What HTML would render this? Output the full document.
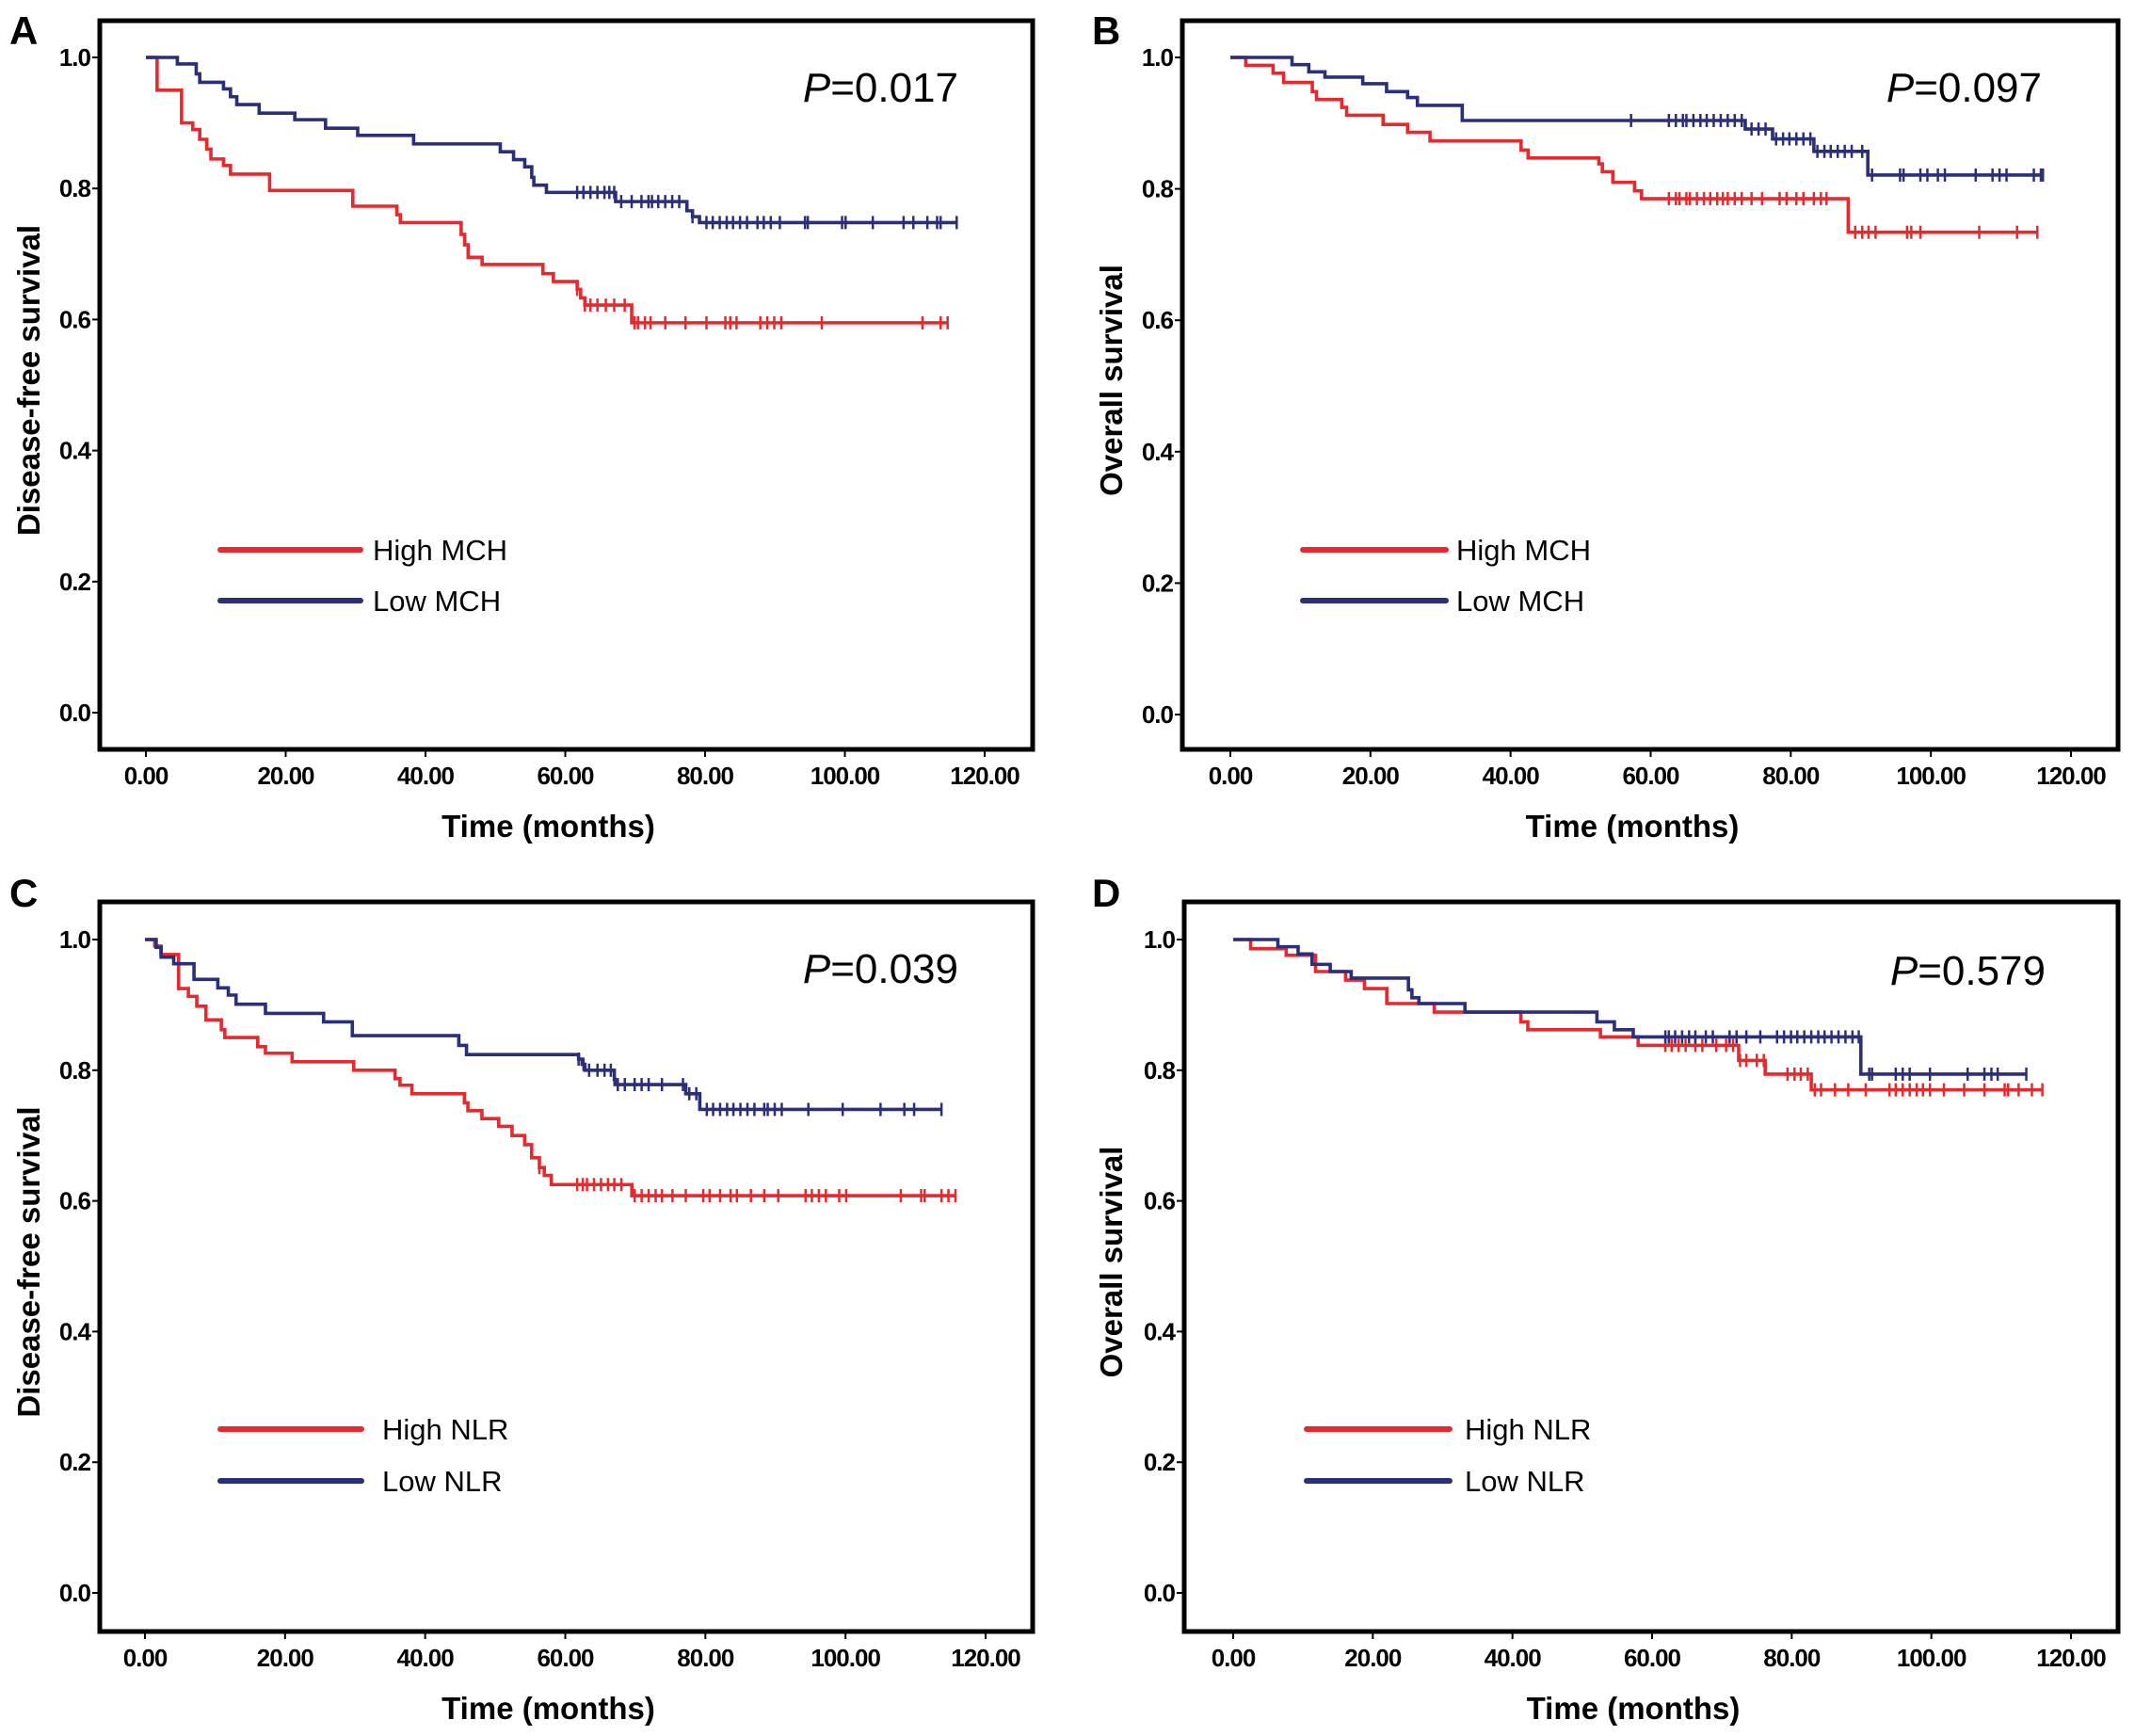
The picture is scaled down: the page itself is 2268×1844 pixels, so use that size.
<!DOCTYPE html>
<html><head><meta charset="utf-8"><style>
html,body{margin:0;padding:0;background:#fff;}
svg{display:block;font-family:"Liberation Sans",Arial,sans-serif;}
</style></head><body>
<svg id="fig" width="2268" height="1844" viewBox="0 0 2268 1844" xmlns="http://www.w3.org/2000/svg"></svg>
<script>
// ---------- DATA ----------
const xTicks = [0,20,40,60,80,100,120];
const xTickLabels = ["0.00","20.00","40.00","60.00","80.00","100.00","120.00"];
const yTicks = [0,0.2,0.4,0.6,0.8,1.0];
const yTickLabels = ["0.0","0.2","0.4","0.6","0.8","1.0"];

// Panel A
const aHighT = [0,1.6,5.1,6.7,7.7,8.7,9.3,11.1,12.1,17.7,29.6,35.9,36.4,45.1,45.6,46.1,48.1,56.8,58.3,61.7,62.2,62.8,69.5];
const aHighS = [1,0.95,0.90,0.89,0.875,0.86,0.845,0.835,0.822,0.797,0.773,0.76,0.748,0.73,0.714,0.695,0.684,0.67,0.658,0.646,0.633,0.622,0.595];
const aHighEnd = 114.7;
const aHighC = [61.7,62.8,63.6,64.6,65.8,67.0,68.5,69.9,70.4,71.4,72.2,74.3,77.2,80.2,82.9,83.6,84.5,87.9,88.9,89.9,90.9,96.7,111.1,113.7,114.7];
const aLowT = [0,4.5,7.2,7.7,11.1,12.1,13.0,16.2,21.3,25.7,30.3,38.3,50.7,52.6,54.2,55.2,55.5,57.3,67.2,77.4,78.2,79.2];
const aLowS = [1,0.99,0.975,0.962,0.952,0.94,0.928,0.915,0.905,0.892,0.881,0.868,0.856,0.844,0.833,0.817,0.805,0.794,0.78,0.766,0.757,0.748];
const aLowEnd = 116.0;
const aLowC = [61.7,62.6,63.6,64.6,65.6,66.3,67.0,68.0,69.5,70.9,71.9,72.4,73.3,74.3,75.3,76.3,78.2,80.2,81.1,82.1,83.1,84.0,85.0,86.0,87.5,88.4,89.4,90.7,94.3,94.7,99.6,100.1,104.0,108.4,109.8,111.8,113.2,113.7,116.0];

// Panel B
const bHighT = [0,2.2,6.1,7.6,11.7,12.3,15.9,16.6,21.8,25.3,28.5,41.5,42.5,52.6,53.1,54.6,57.7,58.7,88.2];
const bHighS = [1,0.988,0.976,0.962,0.948,0.936,0.924,0.912,0.898,0.886,0.873,0.859,0.847,0.838,0.826,0.81,0.797,0.785,0.734];
const bHighEnd = 115.2;
const bHighC = [62.6,63.6,64.1,65.1,65.6,66.6,67.6,68.5,69.5,70.3,71.0,72.0,73.0,74.4,75.9,78.4,79.4,80.8,81.8,83.3,84.3,85.1,89.2,90.2,91.1,92.1,96.6,97.2,98.5,106.9,112.3,115.2];
const bLowT = [0,8.8,11.2,13.5,18.9,22.3,25.3,26.7,33.1,73.5,77.4,83.3,91.0];
const bLowS = [1,0.989,0.978,0.97,0.96,0.948,0.939,0.927,0.904,0.891,0.876,0.857,0.821];
const bLowEnd = 116.0;
const bLowC = [57.2,62.6,63.6,64.6,65.1,66.1,67.1,68.0,69.0,70.0,71.0,72.0,73.0,74.4,75.4,76.4,77.9,78.9,79.8,80.8,81.8,82.8,83.8,84.8,85.7,86.7,87.7,88.7,90.2,91.6,95.6,96.1,98.5,99.5,101.0,102.0,106.4,108.8,109.8,110.8,114.7,115.7,116.0];

// Panel C
const cHighT = [0,1.4,2.3,4.8,6.2,7.4,8.7,10.9,11.4,16.1,17.2,21.0,29.8,35.7,36.4,38.1,45.6,46.1,48.1,50.5,52.4,54.2,55.2,56.3,57.0,58.0,69.5];
const cHighS = [1,0.99,0.977,0.925,0.913,0.898,0.877,0.862,0.85,0.836,0.826,0.813,0.8,0.787,0.777,0.764,0.75,0.738,0.726,0.714,0.70,0.686,0.666,0.651,0.639,0.625,0.608];
const cHighEnd = 115.7;
const cHighC = [56.3,61.7,62.5,63.1,64.1,65.1,66.1,67.0,68.0,69.9,70.9,71.9,72.9,73.8,75.3,77.2,79.7,80.6,82.1,83.6,84.5,86.5,88.4,90.4,94.3,95.2,96.2,97.2,99.1,100.1,107.9,110.8,111.3,113.7,114.7,115.7];
const cLowT = [0,1.6,2.3,4.1,7.0,10.4,11.9,13.0,17.2,25.5,29.6,44.8,45.9,61.9,62.4,62.8,67.0,67.1,77.2,79.2];
const cLowS = [1,0.988,0.973,0.963,0.939,0.926,0.915,0.901,0.887,0.874,0.853,0.838,0.824,0.817,0.809,0.80,0.786,0.778,0.764,0.74];
const cLowEnd = 113.7;
const cLowC = [61.9,62.6,63.4,64.6,65.6,66.5,67.5,68.5,69.9,70.9,71.9,73.8,76.8,77.7,78.7,80.2,81.1,82.1,83.1,84.0,85.0,86.0,87.0,88.4,88.9,89.9,90.9,94.7,99.6,105.0,108.4,109.8,113.7];

// Panel D
const dHighT = [0,2.5,7.6,11.8,16.1,18.8,22.0,28.8,41.2,42.2,52.6,58.0,72.4,76.2,82.8];
const dHighS = [1,0.986,0.976,0.951,0.938,0.925,0.902,0.889,0.874,0.862,0.851,0.838,0.815,0.794,0.77];
const dHighEnd = 115.9;
const dHighC = [61.9,62.8,63.8,64.8,66.2,67.2,69.2,70.6,71.6,72.6,73.5,75.0,76.0,79.4,80.4,81.3,82.3,83.3,84.2,86.2,88.1,90.6,94.0,94.9,95.9,96.9,97.9,98.8,99.8,101.8,104.7,107.6,110.5,111.0,112.5,114.4,115.9];
const dLowT = [0,6.4,9.3,11.3,13.9,16.9,25.1,25.6,26.6,33.2,52.1,54.6,57.3,89.9];
const dLowS = [1,0.989,0.978,0.962,0.951,0.941,0.923,0.911,0.902,0.889,0.874,0.862,0.851,0.794];
const dLowEnd = 113.6;
const dLowC = [61.9,62.4,63.3,64.3,65.3,66.2,67.7,68.7,71.1,72.1,73.5,75.5,77.9,78.9,79.9,80.8,81.8,82.8,83.8,84.7,85.7,86.7,87.7,88.7,89.6,91.1,91.5,94.9,95.9,96.9,99.8,105.2,107.6,108.6,109.5,113.6];

const RED = "#e32a2e", BLUE = "#2b2e78";
const NS = "http://www.w3.org/2000/svg";
const svg = document.getElementById('fig');

function mk(tag, attrs, parent){
  const e = document.createElementNS(NS, tag);
  for (const k in attrs) e.setAttribute(k, attrs[k]);
  (parent||svg).appendChild(e);
  return e;
}
function txt(s, attrs, parent){ const e = mk('text', attrs, parent); e.textContent = s; return e; }

const panels = [
  {id:'a', letter:'A', lx:10, ly:47, box:[106,22,1097,796], x0:155, x120:1046, y1:61, y0:757, ytitle:'Disease-free survival', ytx:30,
   p:'0.017', px:1018, py:108, leg:['High MCH','Low MCH'], legX:[234,383,396], legY:[584,638],
   high:[aHighT,aHighS,aHighEnd,aHighC], low:[aLowT,aLowS,aLowEnd,aLowC]},
  {id:'b', letter:'B', lx:1160, ly:47, box:[1256,22,2250,796], x0:1307, x120:2200, y1:61, y0:759, ytitle:'Overall survival', ytx:1180,
   p:'0.097', px:2169, py:108, leg:['High MCH','Low MCH'], legX:[1384,1536,1547], legY:[584,638],
   high:[bHighT,bHighS,bHighEnd,bHighC], low:[bLowT,bLowS,bLowEnd,bLowC]},
  {id:'c', letter:'C', lx:10, ly:963, box:[106,958,1097,1733], x0:154, x120:1047, y1:998, y0:1692, ytitle:'Disease-free survival', ytx:30,
   p:'0.039', px:1018, py:1044, leg:['High NLR','Low NLR'], legX:[234,384,406], legY:[1518,1573],
   high:[cHighT,cHighS,cHighEnd,cHighC], low:[cLowT,cLowS,cLowEnd,cLowC]},
  {id:'d', letter:'D', lx:1160, ly:963, box:[1258,958,2250,1733], x0:1310, x120:2200, y1:998, y0:1692, ytitle:'Overall survival', ytx:1180,
   p:'0.579', px:2173, py:1046, leg:['High NLR','Low NLR'], legX:[1388,1540,1556], legY:[1518,1573],
   high:[dHighT,dHighS,dHighEnd,dHighC], low:[dLowT,dLowS,dLowEnd,dLowC]}
];

panels.forEach(P => {
  const g = mk('g', {});
  
  
  const X = t => P.x0 + (P.x120 - P.x0) * t / 120;
  const Y = s => P.y0 - (P.y0 - P.y1) * s;
  const [bl, bt, br, bb] = P.box;

  const lt = txt(P.letter, {x:P.lx, y:P.ly, 'font-size':42, 'font-weight':'bold', fill:'#000'}, g);
  
  

  const box = mk('rect', {x:bl, y:bt, width:br-bl, height:bb-bt, fill:'none', stroke:'#000', 'stroke-width':5}, g);
  
  

  yTicks.forEach((v, i) => {
    const tk = mk('line', {x1:bl-8, x2:bl, y1:Y(v), y2:Y(v), stroke:'#000', 'stroke-width':2}, g);
    
    
    const lb = txt(yTickLabels[i], {x:bl-10, y:Y(v)+9, 'font-size':26, 'font-weight':'bold', 'text-anchor':'end', fill:'#000', style:'letter-spacing:-1px'}, g);
    
    
  });
  xTicks.forEach((v, i) => {
    const tk = mk('line', {x1:X(v), x2:X(v), y1:bb, y2:bb+8, stroke:'#000', 'stroke-width':2}, g);
    
    
    const lb = txt(xTickLabels[i], {x:X(v), y:bb+37, 'font-size':26, 'font-weight':'bold', 'text-anchor':'middle', fill:'#000', style:'letter-spacing:-1px'}, g);
    
    
  });
  const xt = txt('Time (months)', {x:(bl+br)/2 - 19, y:bb+93, 'font-size':33, 'font-weight':'bold', 'text-anchor':'middle', fill:'#000'}, g);
  
  
  const ymid = (bt+bb)/2 - 5;
  const yt = txt(P.ytitle, {x:P.ytx+12, y:ymid, 'font-size':33, 'font-weight':'bold', 'text-anchor':'middle', fill:'#000', transform:`rotate(-90 ${P.ytx+12} ${ymid})`}, g);
  
  

  const pt = mk('text', {x:P.px, y:P.py, 'font-size':44, 'text-anchor':'end', fill:'#000'}, g);
  
  
  const it = document.createElementNS(NS, 'tspan'); it.setAttribute('font-style','italic'); it.textContent = 'P'; pt.appendChild(it);
  const rt = document.createElementNS(NS, 'tspan'); rt.textContent = '=' + P.p; pt.appendChild(rt);

  function curve(series, color, name){
    const [T, S, end, C] = series;
    let d = `M${X(T[0])},${Y(S[0])}`;
    for (let i = 1; i < T.length; i++) { d += ` H${X(T[i])} V${Y(S[i])}`; }
    d += ` H${X(end)}`;
    const path = mk('path', {d:d, fill:'none', stroke:color, 'stroke-width':3.6}, g);
    
    
    const stepS = t => { let s = S[0]; for (let i = 0; i < T.length; i++) if (T[i] <= t) s = S[i]; return s; };
    C.forEach(t => {
      const y = Y(stepS(t));
      const c = mk('line', {x1:X(t), x2:X(t), y1:y-7, y2:y+7, stroke:color, 'stroke-width':2.5}, g);
      
      
    });
  }
  curve(P.high, RED, 'high-group');
  curve(P.low, BLUE, 'low-group');

  [[RED, P.leg[0], P.legY[0]], [BLUE, P.leg[1], P.legY[1]]].forEach(([col, lab, y]) => {
    const ln = mk('line', {x1:P.legX[0], x2:P.legX[1], y1:y, y2:y, stroke:col, 'stroke-width':6, 'stroke-linecap':'round'}, g);
    
    
    const lt2 = txt(lab, {x:P.legX[2], y:y+11, 'font-size':31, fill:'#000'}, g);
    
    
  });
});
</script>
</body></html>
